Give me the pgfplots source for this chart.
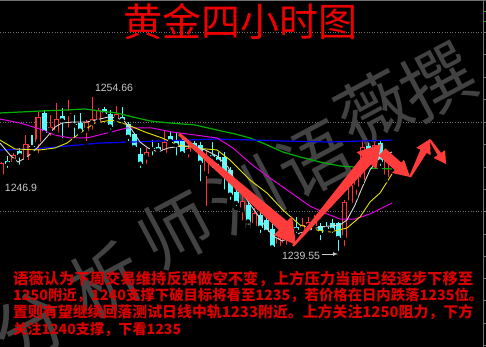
\documentclass[border=0pt]{standalone}
\usepackage{fontspec}
\usepackage{pgfplots}
\usepackage{pgfplotstable}
\pgfplotsset{compat=1.18}
\setmainfont{Liberation Sans}
\newfontfamily\cjk{Noto Sans CJK SC}

\definecolor{upred}{HTML}{FF3232}
\definecolor{downcyan}{HTML}{54FCFC}
\definecolor{arrowred}{HTML}{FF3C3C}
\definecolor{titlered}{HTML}{EE0000}
\definecolor{textred}{HTML}{D80000}
\definecolor{wmgray}{HTML}{424242}
\definecolor{gridgray}{HTML}{707070}
\definecolor{lblgray}{HTML}{C8C8C8}
\definecolor{magline}{HTML}{E000E0}
\definecolor{grnline}{HTML}{00B000}
\definecolor{bluline}{HTML}{0000FF}
\definecolor{yelline}{HTML}{E6E600}
\definecolor{whtline}{HTML}{D8D8D8}

% 4-hour gold candles: index, open, high, low, close
\pgfplotstableread{
i o h l c
0 1246.9 1248.4 1246.9 1248.3
2 1248.4 1249.2 1248.1 1249.0
4 1248.6 1251.0 1248.3 1250.1
6 1250.3 1253.2 1249.0 1252.7
8 1251.4 1252.9 1250.7 1251.8
9 1251.2 1254.1 1251.2 1252.5
11 1253.0 1254.4 1251.5 1253.1
14 1251.4 1252.4 1250.2 1252.2
15 1252.1 1254.66 1251.3 1252.5
16 1252.2 1253.6 1252.1 1253.4
19 1252.5 1253.8 1252.1 1253.0
24 1248.8 1249.7 1248.0 1249.3
27 1249.2 1251.5 1249.2 1250.3
31 1249.3 1250.2 1248.6 1249.7
34 1247.2 1249.5 1243.9 1248.8
40 1243.7 1245.2 1242.5 1244.6
42 1242.2 1243.9 1242.1 1243.4
46 1240.2 1241.3 1239.9 1241.0
47 1240.3 1242.1 1240.0 1241.1
50 1241.8 1242.9 1241.3 1242.3
51 1242.1 1243.0 1241.8 1242.6
52 1242.2 1243.2 1241.8 1242.7
57 1241.0 1244.7 1240.0 1244.5
58 1244.4 1247.4 1244.2 1246.1
59 1245.9 1247.3 1245.0 1246.9
60 1246.6 1250.5 1246.4 1249.8
62 1248.8 1250.3 1248.6 1250.0
64 1246.9 1249.2 1246.6 1248.6
}\upbars

\pgfplotstableread{
i o h l c
1 1248.5 1248.9 1247.6 1248.2
3 1249.4 1249.7 1247.9 1249.0
5 1249.9 1251.0 1249.3 1249.8
7 1253.1 1253.4 1251.0 1251.2
10 1252.8 1253.6 1250.5 1252.4
12 1252.0 1252.9 1250.5 1251.9
13 1252.1 1253.1 1251.0 1251.4
17 1253.5 1253.7 1252.9 1253.0
18 1253.0 1253.4 1251.3 1251.8
20 1252.7 1253.7 1251.9 1252.4
21 1252.0 1252.2 1250.2 1250.8
22 1251.1 1251.2 1249.5 1249.8
23 1249.1 1249.7 1247.6 1248.2
25 1249.7 1250.5 1248.8 1249.6
26 1249.8 1250.2 1249.2 1249.5
28 1250.9 1251.3 1250.2 1250.4
29 1250.5 1251.3 1248.8 1250.0
30 1250.5 1250.7 1248.8 1249.2
32 1250.2 1250.4 1249.3 1249.8
33 1250.0 1250.3 1246.3 1248.3
35 1249.0 1250.3 1247.6 1248.8
36 1248.8 1249.3 1247.1 1248.4
37 1248.8 1249.3 1245.5 1247.1
38 1247.6 1247.9 1244.5 1245.2
39 1245.5 1245.9 1243.9 1244.4
41 1244.2 1244.7 1242.1 1242.6
43 1243.2 1243.7 1241.3 1242.0
44 1242.7 1244.2 1241.3 1241.6
45 1241.9 1242.5 1240.0 1240.1
48 1241.9 1242.9 1240.8 1241.2
49 1242.1 1243.0 1241.3 1241.8
53 1242.2 1242.5 1240.6 1241.5
54 1242.1 1242.6 1241.6 1241.9
55 1242.5 1242.8 1241.3 1241.8
56 1242.5 1242.6 1239.55 1241.0
61 1249.9 1250.2 1247.9 1249.0
63 1250.2 1250.5 1247.8 1248.4
}\downbars

\pgfplotsset{
  frame/.style={at={(0,0)}, anchor=south west, scale only axis,
    width=486pt, height=347pt, hide axis},
  px/.style={frame, xmin=0, xmax=486, ymin=0, ymax=347, y dir=reverse},
  price/.style={frame, xmin=-0.3333, xmax=80.6667, ymin=1230.445, ymax=1264.055},
  bar/.style 2 args={only marks, mark=none, forget plot,
    error bars/.cd, y dir=plus, y explicit, error mark=none,
    error bar style={line width=#1, draw=#2}},
}

\begin{document}
\begin{tikzpicture}
% background, grid and watermark
\begin{axis}[px]
  \addplot[fill=black, draw=none] coordinates {(0,0) (486,0) (486,347) (0,347)};
  \addplot[gridgray, dotted, line width=0.6pt] coordinates {(0,32) (483,32)};
  \addplot[gridgray, dotted, line width=0.6pt] coordinates {(0,122) (483,122)};
  \addplot[gridgray, dotted, line width=0.6pt] coordinates {(0,211) (483,211)};
  \addplot[gridgray, line width=0.8pt] coordinates {(0,0.5) (486,0.5)};
  \addplot[gridgray, line width=0.8pt] coordinates {(483,0) (483,347)};
  \addplot[grnline, line width=0.8pt] coordinates {(484,11) (486,11)};
  \addplot[grnline, line width=0.8pt] coordinates {(484,21) (486,21)};
  \foreach \t in {32,54,77,99,122,144,167,189,211,234,256,278,300,323,345} {
    \edef\tmp{\noexpand\addplot[gridgray, line width=0.6pt] coordinates {(483,\t) (486,\t)};}\tmp
  }
  \begin{scope}[every node/.style={text=wmgray, rotate=28, font=\cjk\fontsize{72}{72}\selectfont}]
    \node at (axis cs:30,328) {分};
    \node at (axis cs:105,280) {析};
    \node at (axis cs:175,230) {师};
    \node at (axis cs:245,195) {汌};
    \node at (axis cs:315,160) {语};
    \node at (axis cs:373,108) {薇};
    \node at (axis cs:438,82) {撰};
  \end{scope}
\end{axis}

% candles and moving averages
\begin{axis}[price]
  % wicks
  \addplot[bar={1pt}{upred}] table[x=i, y=l, y error plus expr=\thisrow{h}-\thisrow{l}] {\upbars};
  \addplot[bar={1pt}{downcyan}] table[x=i, y=l, y error plus expr=\thisrow{h}-\thisrow{l}] {\downbars};
  % falling bodies, filled
  \addplot[bar={5pt}{downcyan}] table[x=i, y=c, y error plus expr={max(\thisrow{o}-\thisrow{c},0.1)}] {\downbars};
  % rising bodies, hollow
  \addplot[bar={5pt}{upred}] table[x=i, y=o, y error plus expr={max(\thisrow{c}-\thisrow{o},0.1)}] {\upbars};
  \addplot[bar={3pt}{black}] table[x=i, y expr=\thisrow{o}+0.097, y error plus expr={max(\thisrow{c}-\thisrow{o}-0.194,0)}] {\upbars};

  % moving averages
  \addplot[grnline, line width=1.2pt] coordinates {(-0.33,1253.11) (6.33,1253.30) (10.83,1253.40) (13.83,1253.50) (16.33,1253.30) (19.17,1253.11) (21.83,1252.72) (24.67,1252.34) (28,1252.14) (32.17,1251.95) (35.83,1251.46) (38.83,1251.08) (41.33,1250.69) (43.83,1250.11) (46.83,1249.33) (49.67,1248.85) (53,1248.36) (56.33,1247.98) (60.83,1247.78) (65,1247.69)};
  \addplot[bluline, line width=1.2pt] coordinates {(-0.33,1249.53) (5.17,1249.62) (10.83,1249.91) (16.33,1250.20) (21.83,1250.30) (26.33,1250.40) (35.83,1250.59) (46.83,1250.40) (54.67,1250.30) (65,1250.49)};
  \addplot[magline, line width=1pt] coordinates {(-0.33,1252.53) (3,1252.14) (6.33,1251.56) (8.83,1250.98) (11.33,1250.69) (14.17,1250.69) (17.5,1251.17) (20.83,1251.66) (25,1251.66) (28.33,1251.27) (32.17,1250.98) (35.83,1250.69) (38.5,1249.72) (41.33,1248.27) (44.17,1247.01) (46.83,1245.94) (49.17,1244.97) (51.33,1244.10) (53.83,1243.42) (56.33,1242.84) (58.83,1242.84) (61.33,1243.33) (65,1244.39)};
  \addplot[yelline, line width=0.9pt] coordinates {(-0.33,1250.49) (2.17,1249.62) (6.33,1249.53) (8.83,1249.72) (10.83,1250.20) (13,1251.17) (15.5,1252.14) (18.33,1252.43) (21,1251.95) (23.83,1251.27) (26.67,1250.69) (29.33,1250.01) (32.17,1249.72) (35.83,1249.53) (38,1248.56) (41.33,1246.62) (44.17,1245.36) (46.83,1243.71) (49.67,1242.26) (52.5,1241.78) (54.67,1241.58) (57.5,1241.97) (59.67,1243.04) (61.33,1244.49) (63,1245.36) (65,1247.20)};
  \addplot[whtline, line width=0.9pt] coordinates {(-0.33,1250.20) (1.33,1249.04) (2.67,1248.36) (4.17,1248.85) (5.83,1249.72) (7.5,1250.79) (8.83,1251.75) (10,1252.14) (11.83,1252.24) (14.17,1252.24) (16.33,1252.53) (17.67,1252.72) (19.17,1252.63) (20.33,1252.34) (21.67,1251.46) (23,1250.30) (24.33,1249.72) (26,1249.33) (27.67,1249.72) (30,1249.91) (32.17,1249.91) (33.83,1249.53) (35.83,1248.95) (37.67,1247.88) (39.17,1246.14) (40.83,1244.68) (42.5,1243.33) (43.83,1242.17) (45.17,1241.20) (46.67,1240.72) (48,1241.01) (49.67,1241.49) (53,1242.07) (56.33,1242.26) (57.5,1242.75) (58.83,1244.20) (60,1245.85) (61.33,1247.59) (63,1248.85) (65,1249.33)};
\end{axis}

% annotations
\begin{axis}[px]
  % trend arrows
  \addplot[fill=arrowred, draw=none] coordinates {(180,132.9) (287.1,221.1) (292,216) (296,245) (274,235) (278.9,229.9) (178,135.1)};
  \addplot[fill=arrowred, draw=none] coordinates {(292.2,245.3) (362,156.7) (356.7,152.1) (381,144) (376.3,169.1) (371,164.5) (293.8,246.7)};
  \addplot[fill=arrowred, draw=none] coordinates {(385.3,148.3) (401.3,162.6) (404,159.6) (410,177) (392,173) (394.7,170) (378.7,155.7)};
  \addplot[fill=arrowred, draw=none] coordinates {(409.1,176.5) (420.4,149.8) (416.4,147.7) (430,139) (430.6,155.1) (426.6,153) (410.9,177.5)};
  \addplot[fill=arrowred, draw=none] coordinates {(429.2,140.6) (437.6,155.1) (433.5,157.9) (446,164) (445.1,150.1) (441,152.9) (430.8,139.4)};

  % price labels
  \begin{scope}[every node/.style={text=lblgray, font=\fontsize{10.5}{12}\selectfont, inner sep=0pt}]
    \node at (axis cs:114,87.5) {1254.66};
    \node at (axis cs:21,187.5) {1246.9};
    \node at (axis cs:301,256) {1239.55};
  \end{scope}
  \addplot[lblgray, line width=0.7pt, -latex] coordinates {(322,254) (338,254)};

  % title
  \node[text=titlered, font=\cjk\fontsize{39}{40}\selectfont, inner sep=0pt] at (axis cs:240,22) {黄金四小时图};

  % commentary
  \begin{scope}[every node/.style={anchor=west, text=textred, inner sep=0pt, font=\cjk\bfseries\fontsize{14}{14}\selectfont}]
    \node at (axis cs:13,279) {\resizebox{460pt}{!}{语薇认为下周交易维持反弹做空不变，上方压力当前已经逐步下移至}};
    \node at (axis cs:13,295.5) {\resizebox{470pt}{!}{1250附近，1240支撑下破目标将看至1235，若价格在日内跌落1235位。}};
    \node at (axis cs:13,312.5) {\resizebox{460pt}{!}{置则有望继续回落测试日线中轨1233附近。上方关注1250阻力，下方}};
    \node at (axis cs:13,329.5) {\resizebox{168pt}{!}{关注1240支撑，下看1235}};
  \end{scope}
\end{axis}
\pgfresetboundingbox
\useasboundingbox (0,0) rectangle (486pt,347pt);
\end{tikzpicture}
\end{document}
